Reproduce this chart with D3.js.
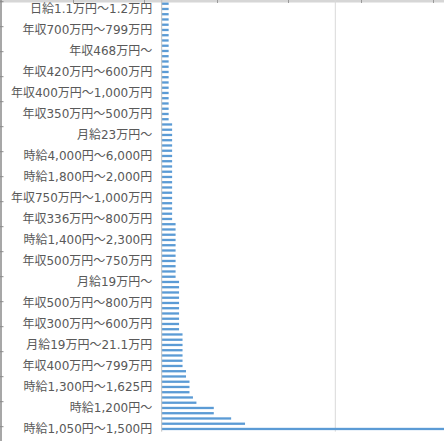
<!DOCTYPE html>
<html>
<head>
<meta charset="utf-8">
<script src="https://cdn.jsdelivr.net/npm/d3@7"></script>
<style>
  html, body { margin: 0; padding: 0; background: #fff; overflow: hidden; }
  svg { display: block; }
</style>
</head>
<body>
<svg id="chart" width="444" height="441"></svg>
<script>
// Category labels shown on the axis (every 4th category, bottom to top)
const tickLabels = [
  "時給1,050円〜1,500円",
  "時給1,200円〜",
  "時給1,300円〜1,625円",
  "年収400万円〜799万円",
  "月給19万円〜21.1万円",
  "年収300万円〜600万円",
  "年収500万円〜800万円",
  "月給19万円〜",
  "年収500万円〜750万円",
  "時給1,400円〜2,300円",
  "年収336万円〜800万円",
  "年収750万円〜1,000万円",
  "時給1,800円〜2,000円",
  "時給4,000円〜6,000円",
  "月給23万円〜",
  "年収350万円〜500万円",
  "年収400万円〜1,000万円",
  "年収420万円〜600万円",
  "年収468万円〜",
  "年収700万円〜799万円",
  "日給1.1万円〜1.2万円"
];
const labelEvery = 4;

// Counts per category, from bottom (index 0) to top
const values = [
  95, 24, 20, 15, 15, 10, 9, 8, 8, 8,
  7, 7, 6, 6, 6, 6, 6, 6, 6, 5,
  5, 5, 5, 5, 5, 5, 5, 5, 5, 4,
  4, 4, 4, 4, 4, 4, 4, 4, 4, 4,
  3, 3, 3, 3, 3, 3, 3, 3, 3, 3,
  3, 3, 3, 3, 3, 3, 3, 3, 3, 2,
  2, 2, 2, 2, 2, 2, 2, 2, 2, 2,
  2, 2, 2, 2, 2, 2, 2, 2, 2, 2,
  2, 2
];
const gridValues = [50, 100];

const svg = d3.select("#chart");
const W = 444, H = 441;

// Spreadsheet chrome: top band & left edge
svg.append("rect").attr("x", 0).attr("y", 0).attr("width", W).attr("height", 2.5).attr("fill", "#d6d6d6");
[73, 144, 217, 288, 361, 433].forEach(cx => {
  svg.append("line").attr("x1", cx + 0.5).attr("x2", cx + 0.5).attr("y1", 0).attr("y2", 3)
    .attr("stroke", "#9a9a9a").attr("stroke-width", 1);
});
svg.append("line").attr("x1", 1).attr("x2", 1).attr("y1", 0).attr("y2", H)
  .attr("stroke", "#8a8a8a").attr("stroke-width", 1.5);
d3.range(1.7, H, 25).forEach(cy => {
  svg.append("line").attr("x1", 0).attr("x2", 3.5).attr("y1", cy).attr("y2", cy)
    .attr("stroke", "#8a8a8a").attr("stroke-width", 1);
});

const x0 = 161.7;
const x = d3.scaleLinear().domain([0, 100]).range([x0, x0 + 347.2]);

const yBottom = 431.6, yTop = yBottom - values.length * 5.25;
const y = d3.scaleBand()
  .domain(d3.range(values.length))
  .range([yBottom, yTop])
  .paddingInner(0.56)
  .paddingOuter(0.28);

// Gridlines
svg.append("g").selectAll("line").data(gridValues).join("line")
  .attr("x1", d => x(d)).attr("x2", d => x(d))
  .attr("y1", 0).attr("y2", yBottom)
  .attr("stroke", "#d9d9d9").attr("stroke-width", 1);

// Bars
svg.append("g").selectAll("rect").data(values).join("rect")
  .attr("x", x(0))
  .attr("y", (d, i) => y(i))
  .attr("width", d => x(d) - x(0))
  .attr("height", y.bandwidth())
  .attr("fill", "#5b9bd5");

// Category axis
const yAxis = d3.axisLeft(y)
  .tickValues(d3.range(0, values.length, labelEvery).filter(i => i / labelEvery < tickLabels.length))
  .tickFormat(i => tickLabels[i / labelEvery])
  .tickSize(0)
  .tickPadding(9.5);

const ga = svg.append("g").attr("transform", `translate(${x0},0)`).call(yAxis);
ga.select(".domain").remove();
ga.selectAll("text")
  .attr("font-family", "'DejaVu Sans', 'Noto Sans CJK JP', sans-serif")
  .attr("font-size", 12)
  .attr("fill", "#595959");

// Axis line
svg.append("line").attr("x1", x0).attr("x2", x0).attr("y1", 0).attr("y2", yBottom)
  .attr("stroke", "#bfbfbf").attr("stroke-width", 1);
</script>
</body>
</html>
